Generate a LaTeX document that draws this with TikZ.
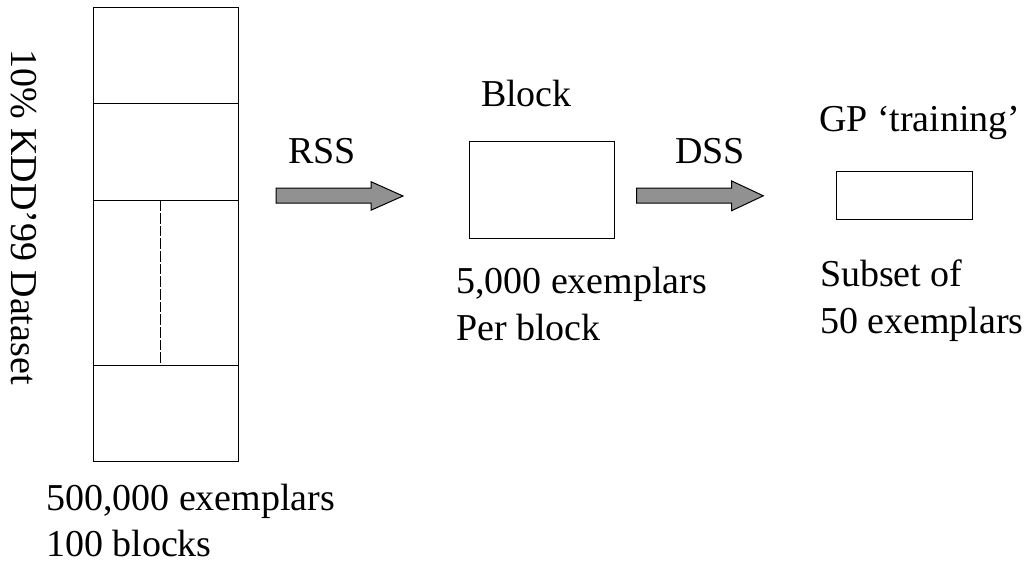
\documentclass[tikz,border=0pt]{standalone}
\usepackage{fontspec}
\setmainfont{Liberation Serif}
\definecolor{arrowgray}{RGB}{145,145,145}
\begin{document}
\begin{tikzpicture}[x=0.75pt,y=-0.75pt,
  lbl/.style={inner sep=0pt,outer sep=0pt,anchor=base west,
              font=\fontsize{28.5pt}{35pt}\selectfont},
  box/.style={draw,line width=0.75pt,inner sep=0pt,outer sep=0pt},
  blockarrow/.style={draw,line width=0.75pt,fill=arrowgray,line join=miter}]
\useasboundingbox (0,0) rectangle (1030,564);

% full dataset column, split into blocks
\node[box,minimum width=108.75pt,minimum height=340.5pt] (data) at (165.5,234) {};
\draw[line width=0.75pt] (data.west |- {0,103.7}) -- (data.east |- {0,103.7});
\draw[line width=0.75pt] (data.west |- {0,200.3}) -- (data.east |- {0,200.3});
\draw[line width=0.75pt] (data.west |- {0,365}) -- (data.east |- {0,365});
\coordinate (dashtop) at (160.3,200.3);
\coordinate (dashbot) at (160.3,365);
\draw[line width=0.75pt,dash pattern=on 8pt off 1.5pt] (dashtop) -- (dashbot);

\node[lbl,rotate=-90] (dataname) at (12,49) {10\% KDD’99 Dataset};
\node[lbl] (datasize1) at (46,510) {500,000 exemplars};
\node[lbl] (datasize2) at (46,556.7) {100 blocks};

% selected block
\node[box,minimum width=108.75pt,minimum height=73pt] (block) at (541.8,190.3) {};
\node[lbl] (blockname) at (481,106) {Block};
\node[lbl] (blocksize1) at (456,293.3) {5,000 exemplars};
\node[lbl] (blocksize2) at (456,340) {Per block};

% training subset
\node[box,minimum width=102.2pt,minimum height=36.2pt] (subset) at (904.2,195.2) {};
\node[lbl] (subsetname) at (819,131.7) {GP ‘training’};
\node[lbl] (subsetsize1) at (820,286.7) {Subset of};
\node[lbl] (subsetsize2) at (820,333.3) {50 exemplars};

% RSS block arrow
\coordinate (rss) at (276,195.5);
\draw[blockarrow] (rss) ++(0,-7.5) -- ++(95,0) -- ++(0,-6.3) -- ++(32,14.3)
  -- ++(-32,14.2) -- ++(0,-7) -- ++(-95,0) -- cycle;
\node[lbl] (rsslabel) at (288,163.3) {RSS};

% DSS block arrow
\coordinate (dss) at (636.7,195.5);
\draw[blockarrow] (dss) ++(0,-7.5) -- ++(95,0) -- ++(0,-7) -- ++(31.6,14.8)
  -- ++(-31.6,14.9) -- ++(0,-7.7) -- ++(-95,0) -- cycle;
\node[lbl] (dsslabel) at (675,163.3) {DSS};
\end{tikzpicture}
\end{document}
